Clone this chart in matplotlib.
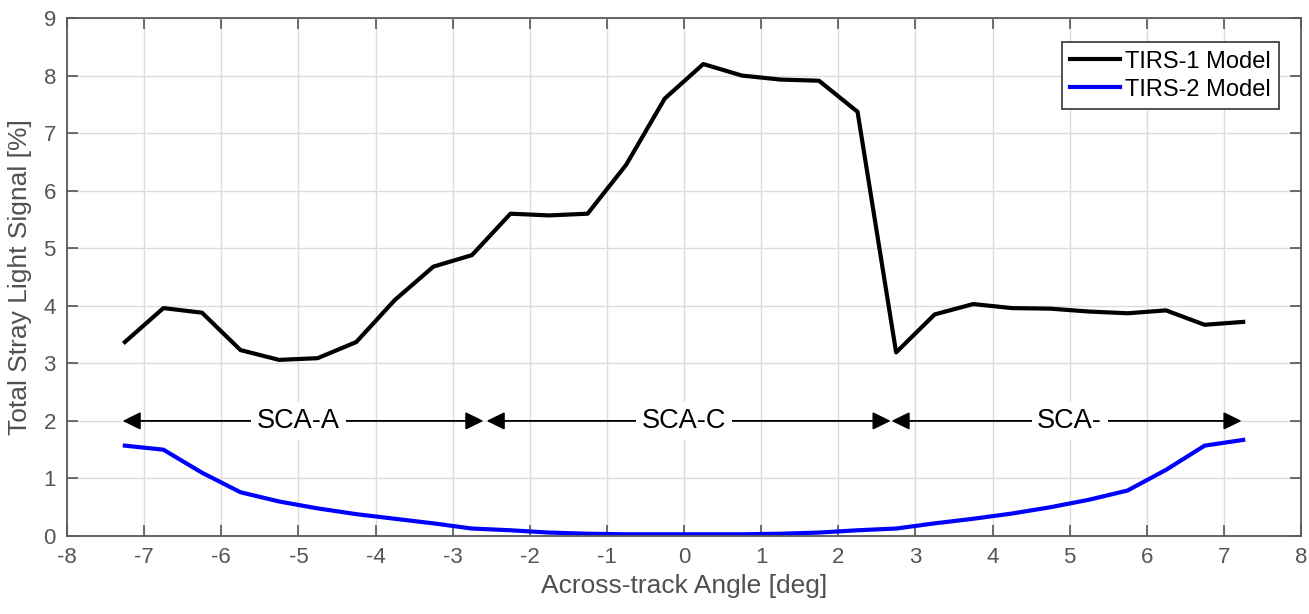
import numpy as np
import matplotlib
matplotlib.use("Agg")
import matplotlib.pyplot as plt

plt.rcParams['font.family'] = ['Liberation Sans', 'DejaVu Sans']
plt.rcParams['axes.unicode_minus'] = False

# Across-track angle of each sample [deg]
angles = [-7.25, -6.75, -6.25, -5.75, -5.25, -4.75, -4.25, -3.75, -3.25, -2.75,
          -2.25, -1.75, -1.25, -0.75, -0.25, 0.25, 0.75, 1.25, 1.75, 2.25,
          2.75, 3.25, 3.75, 4.25, 4.75, 5.25, 5.75, 6.25, 6.75, 7.25]

# Total stray light signal [%]
tirs1 = [3.37, 3.96, 3.88, 3.23, 3.06, 3.09, 3.37, 4.10, 4.68, 4.88,
         5.60, 5.57, 5.60, 6.45, 7.60, 8.20, 8.00, 7.93, 7.91, 7.37,
         3.19, 3.85, 4.03, 3.96, 3.95, 3.90, 3.87, 3.92, 3.67, 3.72]
tirs2 = [1.57, 1.50, 1.10, 0.76, 0.60, 0.48, 0.38, 0.30, 0.22, 0.13,
         0.10, 0.06, 0.04, 0.03, 0.03, 0.03, 0.03, 0.04, 0.06, 0.10,
         0.13, 0.22, 0.30, 0.39, 0.50, 0.63, 0.79, 1.15, 1.57, 1.67]

# SCA regions: label, start, end, label centre
sca_labels = ["SCA-A", "SCA-C", "SCA-"]
sca_start = [-7.28, -2.56, 2.69]
sca_end = [-2.60, 2.68, 7.23]
sca_mid = [-5.0, 0.0, 5.0]
sca_level = 2.0

fig = plt.figure(figsize=(13.09, 6.14), dpi=100)
ax = fig.add_axes([0.0512, 0.127, 0.9427, 0.8437])

ax.plot(angles, tirs1, color="black", lw=3, label="TIRS-1 Model")
ax.plot(angles, tirs2, color="#0000ff", lw=3, label="TIRS-2 Model")

for lab, a, b, m in zip(sca_labels, sca_start, sca_end, sca_mid):
    ax.annotate("", xy=(b, sca_level), xytext=(a, sca_level),
                arrowprops=dict(arrowstyle="<|-|>,head_length=0.55,head_width=0.27",
                                color="black", lw=1.3, mutation_scale=20,
                                shrinkA=0, shrinkB=0))
    ax.text(m, sca_level, lab, ha="center", va="center", fontsize=19.5,
            color="black",
            bbox=dict(facecolor="white", edgecolor="none", pad=4))

ax.set_xlim(-8, 8)
ax.set_ylim(0, 9)
ax.set_xticks(np.arange(-8, 9, 1))
ax.set_yticks(np.arange(0, 10, 1))
ax.grid(True, color="#dcdcdc", lw=1)
ax.set_axisbelow(True)

ax.tick_params(direction="in", length=8, width=1.2, colors="#555555",
               labelsize=16, top=True, right=True, pad=8)
for s in ax.spines.values():
    s.set_color("#5a5a5a")
    s.set_linewidth(1.3)

ax.set_xlabel("Across-track Angle [deg]", fontsize=19, color="#505050", labelpad=4)
ax.set_ylabel("Total Stray Light Signal [%]", fontsize=19, color="#505050", labelpad=8)

leg = ax.legend(loc="upper right", bbox_to_anchor=(0.982, 0.953), fontsize=17,
                fancybox=False, framealpha=1, edgecolor="#333333",
                handlelength=2.1, handletextpad=0.2, borderpad=0.35,
                labelspacing=0.25, borderaxespad=0)
leg.get_frame().set_linewidth(1.2)

fig.savefig("out.png", dpi=100)
plt.close(fig)
